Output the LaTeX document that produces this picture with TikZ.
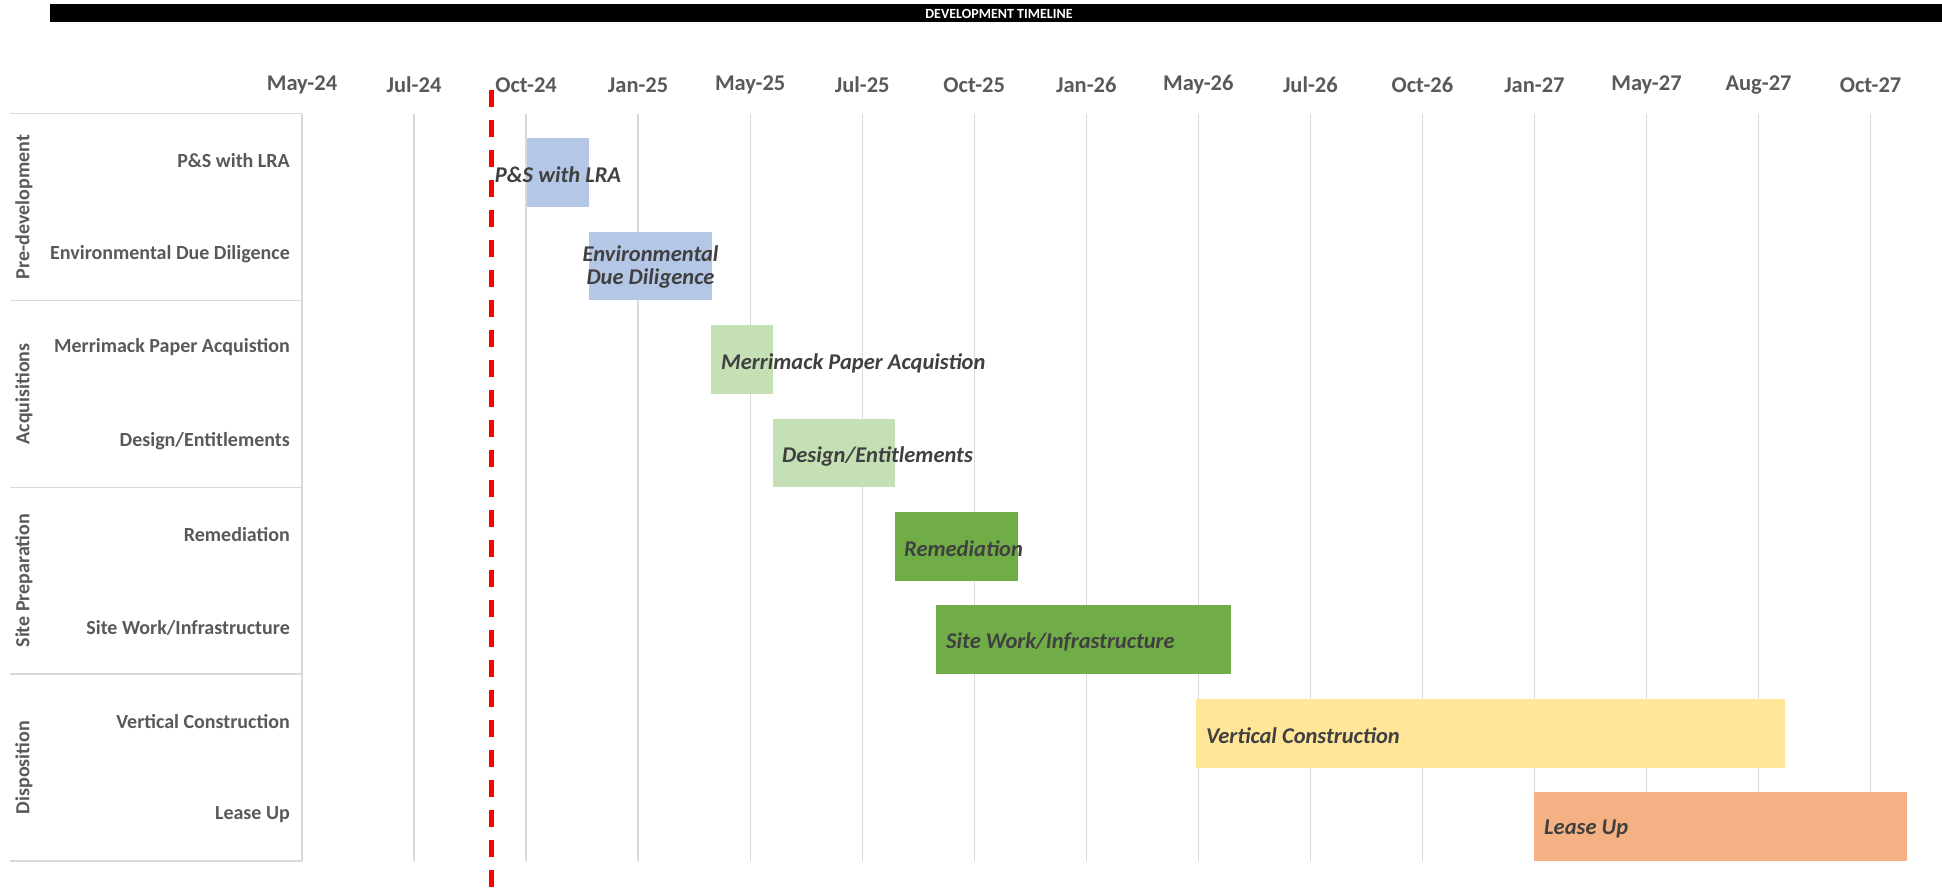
\documentclass[tikz,border=0pt]{standalone}
\usepackage{fontspec}
\setmainfont{Carlito}
\definecolor{cblue}{HTML}{B4C7E7}
\definecolor{clgreen}{HTML}{C5E0B4}
\definecolor{cgreen}{HTML}{70AD47}
\definecolor{cyellow}{HTML}{FFE699}
\definecolor{corange}{HTML}{F4B183}
\definecolor{cdark}{HTML}{404040}
\definecolor{cgray}{HTML}{595959}
\definecolor{cgrid}{HTML}{D9D9D9}
\tikzset{
  gridline/.style={draw=cgrid, line width=1.3pt},
  barbox/.style={anchor=north west, inner sep=0pt, outer sep=0pt, minimum height=68.7pt},
  barlabel/.style={inner sep=0pt, text=cdark, font=\fontsize{22.5}{24}\selectfont\bfseries\itshape},
  rowlabel/.style={anchor=east, inner sep=0pt, text=cgray, font=\fontsize{20}{24}\selectfont\bfseries},
  grouplabel/.style={rotate=90, inner sep=0pt, text=cgray, font=\fontsize{20}{24}\selectfont\bfseries},
  axislabel/.style={inner sep=0pt, text=cgray, font=\fontsize{22.5}{24}\selectfont\bfseries},
  todayline/.style={draw=red, line width=4.3pt, dash pattern=on 16.7pt off 13.3pt}
}
\begin{document}
\begin{tikzpicture}[x=1pt,y=-1pt]
\useasboundingbox[fill=white] (0,0) rectangle (1942,887);
% title bar
\node[fill=black, anchor=north west, inner sep=0pt, minimum width=1892pt, minimum height=18pt] (title) at (50,4) {};
\node[text=white, inner sep=0pt, font=\fontsize{14}{16}\selectfont\bfseries] (titletext) at (999,13.5) {DEVELOPMENT TIMELINE};
% grid lines and axis labels
\foreach \lab [count=\k from 0] in {May-24,Jul-24,Oct-24,Jan-25,May-25,Jul-25,Oct-25,Jan-26,May-26,Jul-26,Oct-26,Jan-27,May-27,Aug-27,Oct-27}{
  \coordinate (gt\k) at ({302+112.04*\k},113.5);
  \coordinate (gb\k) at ({302+112.04*\k},861);
  \draw[gridline] (gt\k) -- (gb\k);
  \node[axislabel] (ax\k) at ({302+112.04*\k},85) {\lab};
}
% table horizontal lines
\foreach \y [count=\i] in {113.5,300.4,487.3,674.1,861}{
  \coordinate (tl\i) at (10,\y);
  \coordinate (tr\i) at (302,\y);
  \draw[gridline] (tl\i) -- (tr\i);
}
% group labels
\node[grouplabel] (g1) at (24,207) {Pre-development};
\node[grouplabel] (g2) at (24,393.8) {Acquisitions};
\node[grouplabel] (g3) at (24,580.7) {Site Preparation};
\node[grouplabel] (g4) at (24,767.6) {Disposition};
% row labels
\node[rowlabel] (r1) at (290,160.5) {P\&S with LRA};
\node[rowlabel] (r2) at (290,254) {Environmental Due Diligence};
\node[rowlabel] (r3) at (290,347.5) {Merrimack Paper Acquistion};
\node[rowlabel] (r4) at (290,441) {Design/Entitlements};
\node[rowlabel] (r5) at (290,534.4) {Remediation};
\node[rowlabel] (r6) at (290,627.8) {Site Work/Infrastructure};
\node[rowlabel] (r7) at (290,721.3) {Vertical Construction};
\node[rowlabel] (r8) at (290,814.7) {Lease Up};
% bars
\node[barbox, fill=cblue, minimum width=62pt] (b1) at (527,138.2) {};
\node[barbox, fill=cblue, minimum width=123pt] (b2) at (589,231.7) {};
\node[barbox, fill=clgreen, minimum width=62pt] (b3) at (711,325.1) {};
\node[barbox, fill=clgreen, minimum width=122pt] (b4) at (773,418.6) {};
\node[barbox, fill=cgreen, minimum width=123pt] (b5) at (895,512) {};
\node[barbox, fill=cgreen, minimum width=295pt] (b6) at (936,605.4) {};
\node[barbox, fill=cyellow, minimum width=589pt] (b7) at (1196,698.9) {};
\node[barbox, fill=corange, minimum width=373pt] (b8) at (1534,792.3) {};
% today line
\coordinate (todaytop) at (491.5,90);
\coordinate (todaybot) at (491.5,887);
\draw[todayline] (todaytop) -- (todaybot);
% bar labels
\node[barlabel] (l1) at ([yshift=-2.5pt]b1.center) {P\&S with LRA};
\node[barlabel, align=center] (l2) at ([yshift=-0.5pt]b2.center) {Environmental\\[-1pt]Due Diligence};
\node[barlabel, anchor=west] (l3) at ([xshift=10pt,yshift=-3.5pt]b3.west) {Merrimack Paper Acquistion};
\node[barlabel, anchor=west] (l4) at ([xshift=9pt,yshift=-3.5pt]b4.west) {Design/Entitlements};
\node[barlabel, anchor=west] (l5) at ([xshift=9pt,yshift=-2pt]b5.west) {Remediation};
\node[barlabel, anchor=west] (l6) at ([xshift=10pt,yshift=-2.5pt]b6.west) {Site Work/Infrastructure};
\node[barlabel, anchor=west] (l7) at ([xshift=10pt,yshift=-2pt]b7.west) {Vertical Construction};
\node[barlabel, anchor=west] (l8) at ([xshift=10pt,yshift=-2.5pt]b8.west) {Lease Up};
\end{tikzpicture}
\end{document}
